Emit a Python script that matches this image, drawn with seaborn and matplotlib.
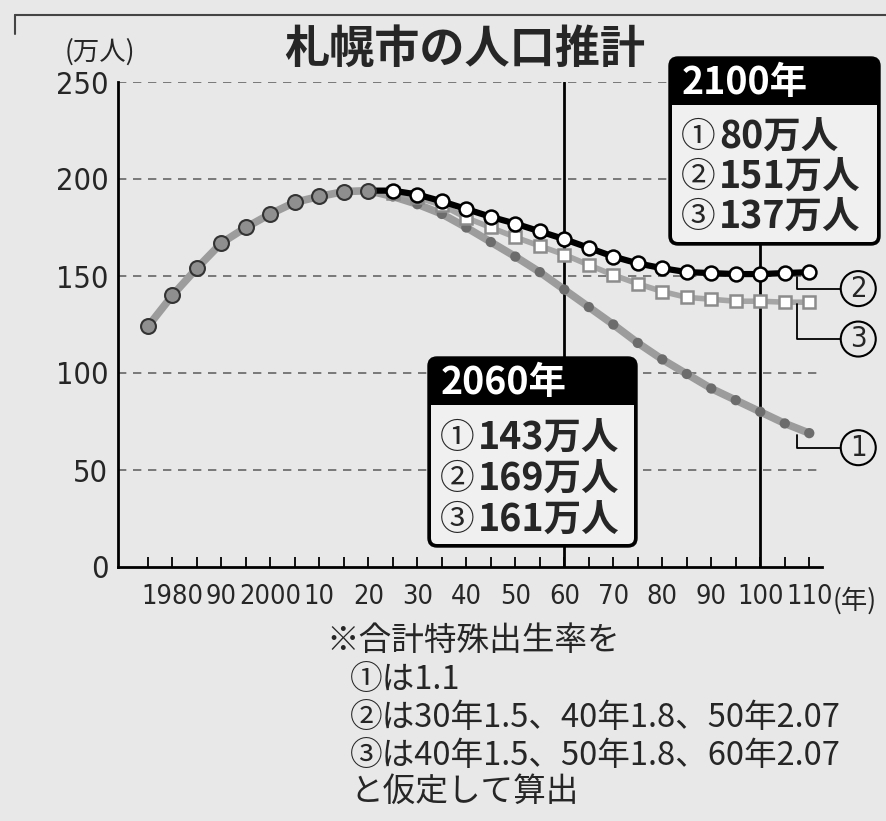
import matplotlib
matplotlib.use("Agg")
import matplotlib.pyplot as plt
from matplotlib.patches import FancyBboxPatch, Rectangle
from matplotlib.lines import Line2D
from matplotlib import font_manager
import pandas as pd
import seaborn as sns

# 実績 (万人)
hist_years = [1975, 1980, 1985, 1990, 1995, 2000, 2005, 2010, 2015, 2020]
hist_pop = [124, 140, 154, 167, 175, 182, 188, 191, 193.5, 194]

# 推計 (万人) 2025-2110
proj_years = [2025, 2030, 2035, 2040, 2045, 2050, 2055, 2060, 2065,
              2070, 2075, 2080, 2085, 2090, 2095, 2100, 2105, 2110]
pop_case1 = [191, 187, 182, 175, 167.5, 160, 152, 143, 134,
             125, 115.5, 107, 99.5, 92, 86, 80, 74, 69]
pop_case2 = [194, 192, 188.5, 184.5, 180.5, 177, 173, 169, 164.5,
             160, 156.5, 154, 152, 151.5, 151, 151, 151.5, 152]
pop_case3 = [193, 190.5, 186.5, 180, 175, 170, 165.5, 161, 155.7,
             150.5, 146, 142, 139, 138, 137, 137, 136.5, 136.5]

tick_years = [1980, 1990, 2000, 2010, 2020, 2030, 2040, 2050, 2060,
              2070, 2080, 2090, 2100, 2110]
tick_labels = ["1980", "90", "2000", "10", "20", "30", "40", "50", "60",
               "70", "80", "90", "100", "110"]
minor_years = list(range(1975, 2111, 5))
y_ticks = [0, 50, 100, 150, 200, 250]

marks = ["①", "②", "③"]
vals_2060 = ["143万人", "169万人", "161万人"]
vals_2100 = ["80万人", "151万人", "137万人"]

notes = ["※合計特殊出生率を",
         "①は1.1",
         "②は30年1.5、40年1.8、50年2.07",
         "③は40年1.5、50年1.8、60年2.07",
         "と仮定して算出"]

BG = "#e8e8e8"
BODY = "#f0f0f0"
CJK = ["Noto Sans CJK JP", "DejaVu Sans"]

# 細い数字用フォント (あれば)
names = {f.name for f in font_manager.fontManager.ttflist}
narrow = [f for f in font_manager.fontManager.ttflist
          if f.name == "DejaVu Sans" and f.stretch == "condensed"
          and f.weight == 400 and f.style == "normal"]
if "Liberation Sans Narrow" in names:
    NUM = dict(family="Liberation Sans Narrow")
elif narrow:
    NUM = dict(fname=narrow[0].fname)
else:
    NUM = dict(family="DejaVu Sans")

sns.set_theme(style="white")
plt.rcParams["font.family"] = CJK

W, H = 887, 821
fig = plt.figure(figsize=(W / 100, H / 100), dpi=100, facecolor=BG)
ax = fig.add_axes([118 / W, 1 - 567 / H, (822 - 118) / W, (567 - 82) / H])
ax.set_facecolor(BG)


def px(x, y):
    return x / 100, (H - y) / 100


# 破線グリッド
for v in y_ticks[1:]:
    ax.axhline(v, color="#666666", lw=1.2, ls=(0, (5, 4)), zorder=1)
ax.axvline(2060, color="black", lw=2, zorder=2)
ax.axvline(2100, color="black", lw=2, zorder=2)

# ①
df1 = pd.DataFrame({"year": hist_years + proj_years, "pop": hist_pop + pop_case1})
sns.lineplot(data=df1, x="year", y="pop", color="#9c9c9c", lw=5.5, ax=ax, zorder=3)
sns.scatterplot(x=proj_years, y=pop_case1, s=55, color="#6c6c6c",
                edgecolor="none", ax=ax, zorder=3.5)

# ③
df3 = pd.DataFrame({"year": [hist_years[-1]] + proj_years, "pop": [hist_pop[-1]] + pop_case3})
sns.lineplot(data=df3, x="year", y="pop", color="#a5a5a5", lw=4, ax=ax, zorder=4,
             marker="s", markersize=9, markerfacecolor="white",
             markeredgecolor="#8c8c8c", markeredgewidth=1.8,
             markevery=list(range(1, len(df3))))

# ②
df2 = pd.DataFrame({"year": [hist_years[-1]] + proj_years, "pop": [hist_pop[-1]] + pop_case2})
sns.lineplot(data=df2, x="year", y="pop", color="black", lw=4.5, ax=ax, zorder=5,
             marker="o", markersize=10, markerfacecolor="white",
             markeredgecolor="black", markeredgewidth=1.8,
             markevery=list(range(1, len(df2))))

# 実績マーカー
sns.scatterplot(x=hist_years, y=hist_pop, s=115, color="#8f8f8f",
                edgecolor="#333333", linewidth=1.5, ax=ax, zorder=6)

ax.set_xlim(1968.9, 2112.6)
ax.set_ylim(0, 250)
ax.set_xticks(tick_years)
ax.set_xticklabels(tick_labels)
ax.set_xticks(minor_years, minor=True)
ax.set_yticks(y_ticks)
ax.set_xlabel("")
ax.set_ylabel("")
ax.tick_params(axis="x", which="both", direction="in", length=7, width=1.3,
               color="black", pad=12, bottom=True)
ax.tick_params(axis="y", length=0, pad=7)
for lab in ax.get_xticklabels():
    lab.set_fontproperties(font_manager.FontProperties(size=19.5, **NUM))
for lab in ax.get_yticklabels():
    lab.set_fontproperties(font_manager.FontProperties(size=22, **NUM))
for side in ["top", "right"]:
    ax.spines[side].set_visible(False)
for side in ["left", "bottom"]:
    ax.spines[side].set_color("black")
    ax.spines[side].set_linewidth(2)

# 系列番号
callouts = [("2", pop_case2[-1] - 2.5, 143.5),
            ("3", pop_case3[-1] - 1, 117.5),
            ("1", pop_case1[-1] - 1, 61.5)]
for num, ystart, ytext in callouts:
    ax.annotate(num, xy=(2107.5, ystart), xytext=(2120, ytext), textcoords="data",
                ha="center", va="center",
                fontproperties=font_manager.FontProperties(size=21, **NUM),
                bbox=dict(boxstyle="circle,pad=0.12", fc=BG, ec="black", lw=1.5),
                arrowprops=dict(arrowstyle="-", color="black", lw=1.3,
                                connectionstyle="angle,angleA=0,angleB=90,rad=0",
                                shrinkA=0, shrinkB=0),
                annotation_clip=False, zorder=7)

T = fig.dpi_scale_trans

# タイトルなど
fig.text(*px(284, 50), "札幌市の人口推計", transform=T, fontsize=32.5,
         fontweight="bold", va="center", ha="left")
fig.text(*px(100, 52), "(万人)", transform=T, fontsize=19, va="center", ha="center")
fig.text(*px(855, 601), "(年)", transform=T, fontsize=19, va="center", ha="center")

fig.add_artist(Line2D([0.15, W / 100], [(H - 15) / 100] * 2, transform=T,
                      color="#444444", lw=1.5))
fig.add_artist(Line2D([0.15, 0.15], [(H - 15) / 100, (H - 34) / 100], transform=T,
                      color="#444444", lw=1.5))


def draw_box(left, top, right, bottom, head, title, vals, row_y):
    r = 0.09
    fig.add_artist(FancyBboxPatch(px(left, bottom), (right - left) / 100, (bottom - top) / 100,
                                  boxstyle=f"round,pad=0,rounding_size={r}", transform=T,
                                  fc="black", ec="black", lw=1, zorder=5))
    b = 3
    bw = (right - left - 2 * b) / 100
    fig.add_artist(FancyBboxPatch(px(left + b, bottom - b), bw, (bottom - b - head) / 100,
                                  boxstyle=f"round,pad=0,rounding_size={r - 0.03}",
                                  transform=T, fc=BODY, ec="none", zorder=6))
    fig.add_artist(Rectangle(px(left + b, head + 15), bw, 0.15, transform=T,
                             fc=BODY, ec="none", zorder=6))
    fig.text(*px(left + 13, (top + head) / 2 + 1), title, transform=T, color="white",
             fontsize=27, fontweight="bold", va="center", ha="left", zorder=7)
    for m, v, yy in zip(marks, vals, row_y):
        fig.text(*px(left + 12, yy), m, transform=T, fontsize=25, va="center",
                 ha="left", zorder=7)
        fig.text(*px(left + 50, yy), v, transform=T, fontsize=27, fontweight="bold",
                 va="center", ha="left", zorder=7)


draw_box(669, 57, 880, 245, 105, "2100年", vals_2100, [137, 177, 217])
draw_box(428, 357, 637, 547, 405, "2060年", vals_2060, [438, 479, 520])

# 注記
note_y = [641, 680, 718, 756, 792]
for i, (line, yy) in enumerate(zip(notes, note_y)):
    fig.text(*px(326 if i == 0 else 350, yy), line, transform=T, fontsize=23.5,
             va="center", ha="left")

fig.savefig("out.png", dpi=100, facecolor=BG)
